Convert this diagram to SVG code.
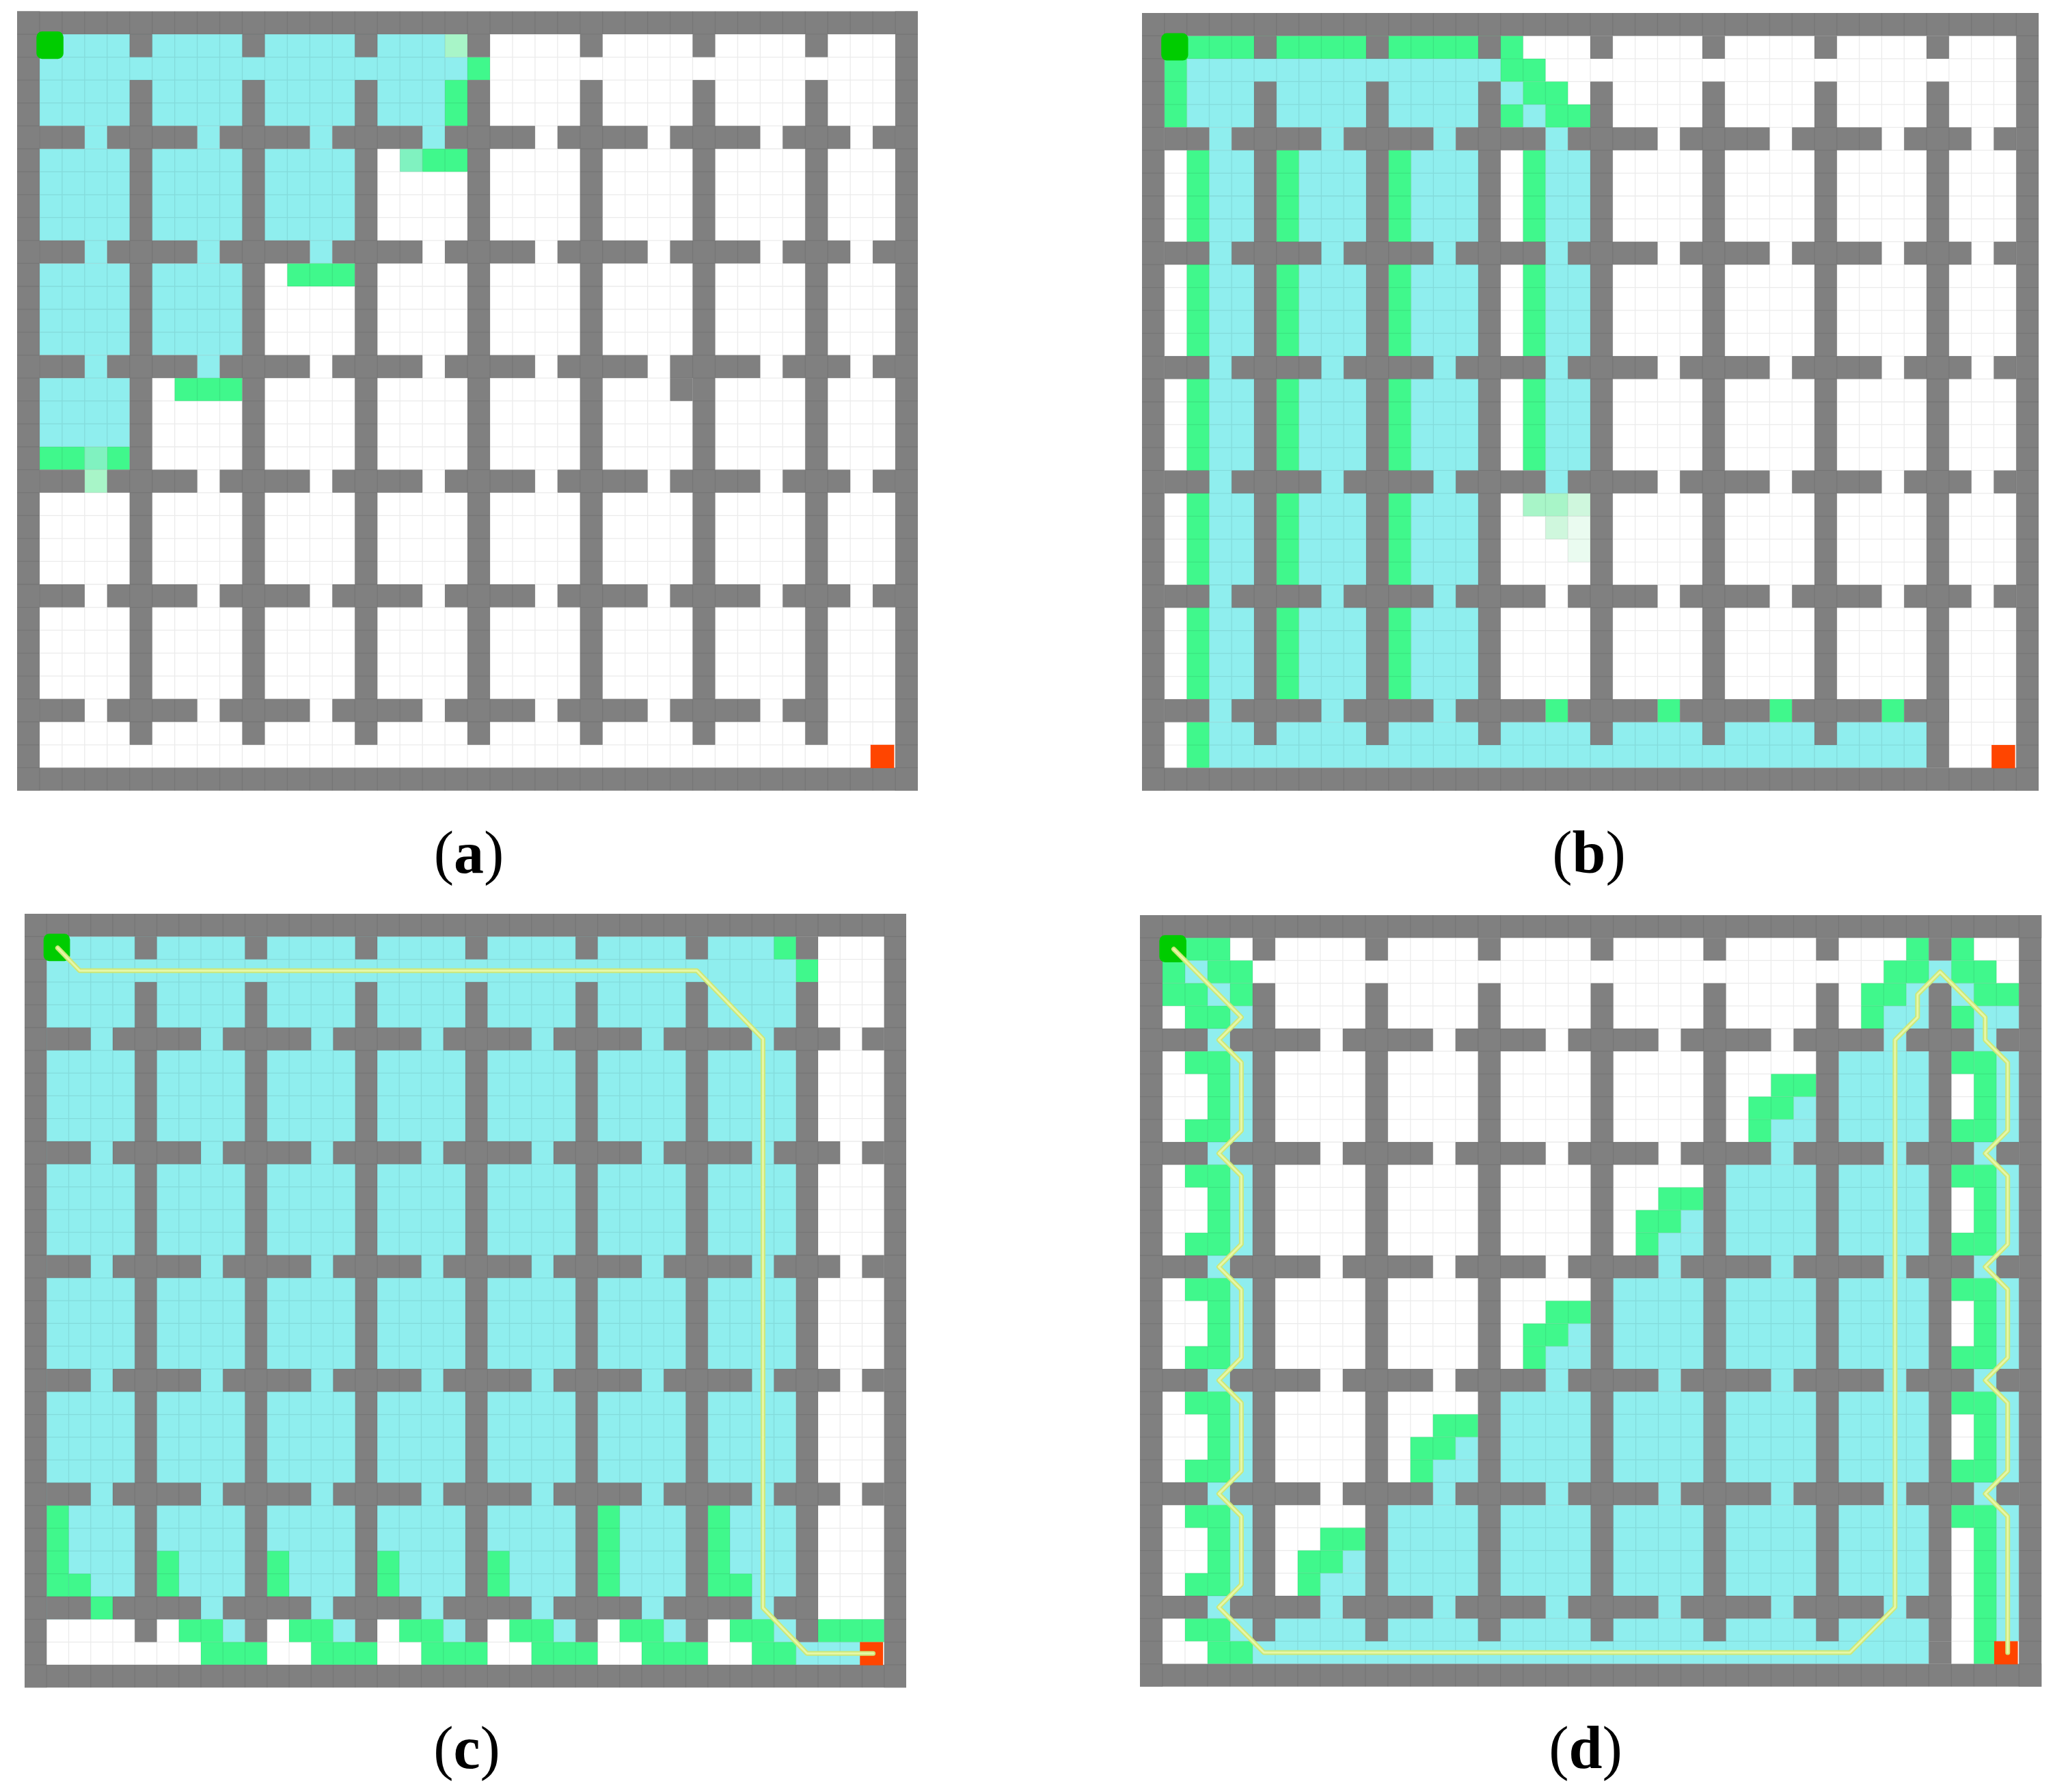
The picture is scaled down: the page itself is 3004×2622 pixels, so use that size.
<svg xmlns="http://www.w3.org/2000/svg" width="3004" height="2622" viewBox="0 0 3004 2622">
<style>
.w{fill:#808080}
.c{fill:#8FEEEE}
.g{fill:#40F88C}
.m{fill:#80F2C0}
.p1{fill:#A8F5C8}
.p2{fill:#CFF7DD}
.p3{fill:#EAFBF0}
.st{fill:#00CC00}
.gl{fill:#FF4500}
.grid{fill:none;stroke:#000;stroke-opacity:0.08;stroke-width:1.3;vector-effect:non-scaling-stroke}
.route{fill:none;stroke:#CDE878;stroke-width:7;stroke-linejoin:round;stroke-linecap:round;vector-effect:non-scaling-stroke}
.route2{fill:none;stroke:#E6F7A8;stroke-width:3;stroke-linejoin:round;stroke-linecap:round;vector-effect:non-scaling-stroke}
.lab{font-family:"Liberation Serif","Times New Roman",serif;font-size:88px;fill:#000}
</style>
<defs>
<g id="hrow">
<rect x="1" y="0" width="2" height="1"/><rect x="4" y="0" width="4" height="1"/><rect x="9" y="0" width="4" height="1"/><rect x="14" y="0" width="4" height="1"/><rect x="19" y="0" width="4" height="1"/><rect x="24" y="0" width="4" height="1"/><rect x="29" y="0" width="4" height="1"/><rect x="34" y="0" width="3" height="1"/><rect x="38" y="0" width="1" height="1"/>
</g>
<g id="walls" class="w">
<rect x="0" y="0" width="40" height="1"/><rect x="0" y="33" width="40" height="1"/><rect x="0" y="0" width="1" height="34"/><rect x="39" y="0" width="1" height="34"/>
<use href="#hrow" y="5"/><use href="#hrow" y="10"/><use href="#hrow" y="15"/><use href="#hrow" y="20"/><use href="#hrow" y="25"/>
<rect x="1" y="30" width="2" height="1"/><rect x="4" y="30" width="4" height="1"/><rect x="9" y="30" width="4" height="1"/><rect x="14" y="30" width="4" height="1"/><rect x="19" y="30" width="4" height="1"/><rect x="24" y="30" width="4" height="1"/><rect x="29" y="30" width="4" height="1"/><rect x="34" y="30" width="2" height="1"/>
<rect x="5" y="1" width="1" height="1"/><rect x="5" y="3" width="1" height="29"/>
<rect x="10" y="1" width="1" height="1"/><rect x="10" y="3" width="1" height="29"/>
<rect x="15" y="1" width="1" height="1"/><rect x="15" y="3" width="1" height="29"/>
<rect x="20" y="1" width="1" height="1"/><rect x="20" y="3" width="1" height="29"/>
<rect x="25" y="1" width="1" height="1"/><rect x="25" y="3" width="1" height="29"/>
<rect x="30" y="1" width="1" height="1"/><rect x="30" y="3" width="1" height="29"/>
<rect x="35" y="1" width="1" height="1"/><rect x="35" y="3" width="1" height="29"/>
</g>
<path id="grid" class="grid" d="M1 0V34M2 0V34M3 0V34M4 0V34M5 0V34M6 0V34M7 0V34M8 0V34M9 0V34M10 0V34M11 0V34M12 0V34M13 0V34M14 0V34M15 0V34M16 0V34M17 0V34M18 0V34M19 0V34M20 0V34M21 0V34M22 0V34M23 0V34M24 0V34M25 0V34M26 0V34M27 0V34M28 0V34M29 0V34M30 0V34M31 0V34M32 0V34M33 0V34M34 0V34M35 0V34M36 0V34M37 0V34M38 0V34M39 0V34M0 1H40M0 2H40M0 3H40M0 4H40M0 5H40M0 6H40M0 7H40M0 8H40M0 9H40M0 10H40M0 11H40M0 12H40M0 13H40M0 14H40M0 15H40M0 16H40M0 17H40M0 18H40M0 19H40M0 20H40M0 21H40M0 22H40M0 23H40M0 24H40M0 25H40M0 26H40M0 27H40M0 28H40M0 29H40M0 30H40M0 31H40M0 32H40M0 33H40"/>
<g id="ends">
<rect class="gl" x="37.9" y="32" width="1.05" height="1.02"/>
<rect class="st" x="0.86" y="0.88" width="1.2" height="1.2" rx="0.25" ry="0.25"/>
</g>
</defs>

<!-- Panel (a) -->
<g id="panel-a" transform="translate(25 16.5) scale(32.95 33.54)">
<rect width="40" height="34" fill="#fff"/>
<g class="c">
<rect x="1" y="1" width="18" height="4"/>
<rect x="19" y="2" width="1" height="1"/>
<rect x="3" y="5" width="1" height="1"/><rect x="8" y="5" width="1" height="1"/><rect x="13" y="5" width="1" height="1"/><rect x="18" y="5" width="1" height="1"/>
<rect x="1" y="6" width="14" height="4"/>
<rect x="3" y="10" width="1" height="1"/><rect x="8" y="10" width="1" height="1"/><rect x="13" y="10" width="1" height="1"/>
<rect x="1" y="11" width="9" height="4"/>
<rect x="3" y="15" width="1" height="1"/><rect x="8" y="15" width="1" height="1"/>
<rect x="1" y="16" width="4" height="3"/>
</g>
<g class="g">
<rect x="19" y="3" width="1" height="2"/>
<rect x="20" y="2" width="1" height="1"/>
<rect x="18" y="6" width="2" height="1"/>
<rect x="12" y="11" width="3" height="1"/>
<rect x="7" y="16" width="3" height="1"/>
<rect x="1" y="19" width="2" height="1"/>
<rect x="4" y="19" width="1" height="1"/>
</g>
<rect class="m" x="17" y="6" width="1" height="1"/>
<rect class="p1" x="19" y="1" width="1" height="1"/>
<rect class="m" x="3" y="19" width="1" height="1"/>
<rect class="p1" x="3" y="20" width="1" height="1"/>
<use href="#walls"/>
<rect class="w" x="29" y="16" width="1" height="1"/>
<use href="#grid"/>
<use href="#ends"/>
</g>

<!-- Panel (b) -->
<g id="panel-b" transform="translate(1671 19) scale(32.8 33.47)">
<rect width="40" height="34" fill="#fff"/>
<g class="c">
<rect x="2" y="2" width="14" height="3"/>
<rect x="16" y="3" width="1" height="1"/>
<rect x="17" y="4" width="1" height="1"/>
<rect x="3" y="5" width="1" height="1"/><rect x="8" y="5" width="1" height="1"/><rect x="13" y="5" width="1" height="1"/><rect x="18" y="5" width="1" height="1"/>
<rect x="3" y="6" width="2" height="25"/>
<rect x="7" y="6" width="3" height="25"/>
<rect x="12" y="6" width="3" height="25"/>
<rect x="18" y="6" width="2" height="15"/>
<rect x="3" y="31" width="32" height="2"/>
</g>
<g class="g">
<rect x="2" y="1" width="15" height="1"/>
<rect x="1" y="2" width="1" height="3"/>
<rect x="16" y="2" width="2" height="1"/>
<rect x="17" y="3" width="2" height="1"/>
<rect x="16" y="4" width="1" height="1"/>
<rect x="18" y="4" width="2" height="1"/>
<rect x="2" y="6" width="1" height="24"/>
<rect x="6" y="6" width="1" height="24"/>
<rect x="11" y="6" width="1" height="24"/>
<rect x="17" y="6" width="1" height="14"/>
<rect x="18" y="30" width="1" height="1"/><rect x="23" y="30" width="1" height="1"/><rect x="28" y="30" width="1" height="1"/><rect x="33" y="30" width="1" height="1"/>
<rect x="2" y="31" width="1" height="2"/>
</g>
<rect class="p1" x="17" y="21" width="2" height="1"/>
<rect class="p2" x="19" y="21" width="1" height="1"/>
<rect class="p2" x="18" y="22" width="1" height="1"/>
<rect class="p3" x="19" y="22" width="1" height="2"/>
<use href="#walls"/>
<rect class="w" x="35" y="32" width="1" height="1"/>
<use href="#grid"/>
<use href="#ends"/>
</g>

<!-- Panel (c) -->
<g id="panel-c" transform="translate(36 1337) scale(32.25 33.3)">
<rect width="40" height="34" fill="#fff"/>
<g class="c">
<rect x="1" y="1" width="34" height="30"/>
<rect x="9" y="31" width="1" height="1"/><rect x="14" y="31" width="1" height="1"/><rect x="19" y="31" width="1" height="1"/><rect x="24" y="31" width="1" height="1"/><rect x="29" y="31" width="1" height="1"/><rect x="34" y="31" width="1" height="1"/>
<rect x="35" y="32" width="3" height="1"/>
</g>
<g class="g">
<rect x="34" y="1" width="1" height="1"/>
<rect x="35" y="2" width="1" height="1"/>
<rect x="1" y="26" width="1" height="4"/><rect x="2" y="29" width="1" height="1"/>
<rect x="6" y="28" width="1" height="2"/>
<rect x="11" y="28" width="1" height="2"/>
<rect x="16" y="28" width="1" height="2"/>
<rect x="21" y="28" width="1" height="2"/>
<rect x="26" y="26" width="1" height="4"/>
<rect x="31" y="26" width="1" height="4"/><rect x="32" y="29" width="1" height="1"/>
<rect x="3" y="30" width="1" height="1"/>
<rect x="7" y="31" width="2" height="1"/><rect x="12" y="31" width="2" height="1"/><rect x="17" y="31" width="2" height="1"/><rect x="22" y="31" width="2" height="1"/><rect x="27" y="31" width="2" height="1"/><rect x="32" y="31" width="2" height="1"/>
<rect x="36" y="31" width="3" height="1"/>
<rect x="8" y="32" width="3" height="1"/><rect x="13" y="32" width="3" height="1"/><rect x="18" y="32" width="3" height="1"/><rect x="23" y="32" width="3" height="1"/><rect x="28" y="32" width="3" height="1"/><rect x="33" y="32" width="2" height="1"/>
</g>
<use href="#walls"/>
<use href="#grid"/>
<use href="#ends"/>
<polyline class="route" points="1.5,1.5 2.5,2.5 30.5,2.5 33.5,5.5 33.5,30.5 35.5,32.5 38.5,32.5"/>
<polyline class="route2" points="1.5,1.5 2.5,2.5 30.5,2.5 33.5,5.5 33.5,30.5 35.5,32.5 38.5,32.5"/>
</g>

<!-- Panel (d) -->
<g id="panel-d" transform="translate(1668 1339) scale(32.98 33.2)">
<rect width="40" height="34" fill="#fff"/>
<g class="c">
<rect x="2" y="2" width="1" height="1"/><rect x="3" y="3" width="1" height="1"/><rect x="4" y="4" width="1" height="1"/>
<rect x="3" y="5" width="1" height="1"/><rect x="3" y="10" width="1" height="1"/><rect x="3" y="15" width="1" height="1"/><rect x="3" y="20" width="1" height="1"/><rect x="3" y="25" width="1" height="1"/><rect x="3" y="30" width="1" height="1"/>
<rect x="4" y="6" width="1" height="24"/>
<rect x="4" y="31" width="1" height="1"/>
<rect x="5" y="31" width="30" height="2"/>
<rect x="31" y="6" width="4" height="4"/>
<rect x="26" y="11" width="9" height="4"/>
<rect x="21" y="16" width="14" height="4"/>
<rect x="16" y="21" width="19" height="4"/>
<rect x="11" y="26" width="24" height="4"/>
<rect x="33" y="5" width="1" height="1"/>
<rect x="28" y="10" width="1" height="1"/><rect x="33" y="10" width="1" height="1"/>
<rect x="23" y="15" width="1" height="1"/><rect x="28" y="15" width="1" height="1"/><rect x="33" y="15" width="1" height="1"/>
<rect x="18" y="20" width="1" height="1"/><rect x="23" y="20" width="1" height="1"/><rect x="28" y="20" width="1" height="1"/><rect x="33" y="20" width="1" height="1"/>
<rect x="13" y="25" width="1" height="1"/><rect x="18" y="25" width="1" height="1"/><rect x="23" y="25" width="1" height="1"/><rect x="28" y="25" width="1" height="1"/><rect x="33" y="25" width="1" height="1"/>
<rect x="8" y="30" width="1" height="1"/><rect x="13" y="30" width="1" height="1"/><rect x="18" y="30" width="1" height="1"/><rect x="23" y="30" width="1" height="1"/><rect x="28" y="30" width="1" height="1"/><rect x="33" y="30" width="1" height="1"/>
<rect x="29" y="8" width="1" height="1"/><rect x="28" y="9" width="2" height="1"/>
<rect x="24" y="13" width="1" height="1"/><rect x="23" y="14" width="2" height="1"/>
<rect x="19" y="18" width="1" height="1"/><rect x="18" y="19" width="2" height="1"/>
<rect x="14" y="23" width="1" height="1"/><rect x="13" y="24" width="2" height="1"/>
<rect x="9" y="28" width="1" height="1"/><rect x="8" y="29" width="2" height="1"/>
<rect x="34" y="3" width="1" height="1"/><rect x="33" y="4" width="2" height="1"/><rect x="35" y="2" width="1" height="1"/>
<rect x="36" y="3" width="1" height="1"/><rect x="37" y="4" width="2" height="1"/>
<rect x="37" y="5" width="1" height="1"/>
<rect x="38" y="6" width="1" height="26"/>
</g>
<g class="g">
<rect x="2" y="1" width="2" height="1"/><rect x="1" y="2" width="1" height="1"/><rect x="3" y="2" width="2" height="1"/>
<rect x="1" y="3" width="2" height="1"/><rect x="4" y="3" width="1" height="1"/><rect x="2" y="4" width="2" height="1"/>
<rect x="3" y="6" width="1" height="4"/><rect x="3" y="11" width="1" height="4"/><rect x="3" y="16" width="1" height="4"/><rect x="3" y="21" width="1" height="4"/><rect x="3" y="26" width="1" height="4"/>
<rect x="2" y="6" width="1" height="1"/><rect x="2" y="9" width="1" height="1"/><rect x="2" y="11" width="1" height="1"/><rect x="2" y="14" width="1" height="1"/><rect x="2" y="16" width="1" height="1"/><rect x="2" y="19" width="1" height="1"/><rect x="2" y="21" width="1" height="1"/><rect x="2" y="24" width="1" height="1"/><rect x="2" y="26" width="1" height="1"/><rect x="2" y="29" width="1" height="1"/>
<rect x="2" y="31" width="2" height="1"/><rect x="3" y="32" width="2" height="1"/>
<rect x="28" y="7" width="2" height="1"/><rect x="27" y="8" width="2" height="1"/><rect x="27" y="9" width="1" height="1"/>
<rect x="23" y="12" width="2" height="1"/><rect x="22" y="13" width="2" height="1"/><rect x="22" y="14" width="1" height="1"/>
<rect x="18" y="17" width="2" height="1"/><rect x="17" y="18" width="2" height="1"/><rect x="17" y="19" width="1" height="1"/>
<rect x="13" y="22" width="2" height="1"/><rect x="12" y="23" width="2" height="1"/><rect x="12" y="24" width="1" height="1"/>
<rect x="8" y="27" width="2" height="1"/><rect x="7" y="28" width="2" height="1"/><rect x="7" y="29" width="1" height="1"/>
<rect x="34" y="1" width="1" height="1"/><rect x="33" y="2" width="2" height="1"/><rect x="32" y="3" width="2" height="1"/><rect x="32" y="4" width="1" height="1"/>
<rect x="36" y="1" width="1" height="1"/><rect x="36" y="2" width="2" height="1"/><rect x="37" y="3" width="2" height="1"/><rect x="36" y="4" width="1" height="1"/>
<rect x="37" y="6" width="1" height="4"/><rect x="37" y="11" width="1" height="4"/><rect x="37" y="16" width="1" height="4"/><rect x="37" y="21" width="1" height="4"/><rect x="37" y="26" width="1" height="7"/>
<rect x="36" y="6" width="1" height="1"/><rect x="36" y="9" width="1" height="1"/><rect x="36" y="11" width="1" height="1"/><rect x="36" y="14" width="1" height="1"/><rect x="36" y="16" width="1" height="1"/><rect x="36" y="19" width="1" height="1"/><rect x="36" y="21" width="1" height="1"/><rect x="36" y="24" width="1" height="1"/><rect x="36" y="26" width="1" height="1"/>
</g>
<rect class="c" x="37" y="10" width="1" height="1"/><rect class="c" x="37" y="15" width="1" height="1"/><rect class="c" x="37" y="20" width="1" height="1"/><rect class="c" x="37" y="25" width="1" height="1"/>
<use href="#walls"/>
<rect class="w" x="35" y="32" width="1" height="1"/>
<use href="#grid"/>
<use href="#ends"/>
<polyline class="route" points="1.5,1.5 4.5,4.5 3.5,5.5 4.5,6.5 4.5,9.5 3.5,10.5 4.5,11.5 4.5,14.5 3.5,15.5 4.5,16.5 4.5,19.5 3.5,20.5 4.5,21.5 4.5,24.5 3.5,25.5 4.5,26.5 4.5,29.5 3.5,30.5 5.5,32.5 31.5,32.5 33.5,30.5 33.5,5.5 34.5,4.5 34.5,3.5 35.5,2.5 37.5,4.5 37.5,5.5 38.5,6.5 38.5,9.5 37.5,10.5 38.5,11.5 38.5,14.5 37.5,15.5 38.5,16.5 38.5,19.5 37.5,20.5 38.5,21.5 38.5,24.5 37.5,25.5 38.5,26.5 38.5,32.5"/>
<polyline class="route2" points="1.5,1.5 4.5,4.5 3.5,5.5 4.5,6.5 4.5,9.5 3.5,10.5 4.5,11.5 4.5,14.5 3.5,15.5 4.5,16.5 4.5,19.5 3.5,20.5 4.5,21.5 4.5,24.5 3.5,25.5 4.5,26.5 4.5,29.5 3.5,30.5 5.5,32.5 31.5,32.5 33.5,30.5 33.5,5.5 34.5,4.5 34.5,3.5 35.5,2.5 37.5,4.5 37.5,5.5 38.5,6.5 38.5,9.5 37.5,10.5 38.5,11.5 38.5,14.5 37.5,15.5 38.5,16.5 38.5,19.5 37.5,20.5 38.5,21.5 38.5,24.5 37.5,25.5 38.5,26.5 38.5,32.5"/>
</g>

<g id="labels" class="lab" text-anchor="middle">
<text x="686" y="1277">(<tspan font-weight="bold">a</tspan>)</text>
<text x="2325" y="1277">(<tspan font-weight="bold">b</tspan>)</text>
<text x="683" y="2587">(<tspan font-weight="bold">c</tspan>)</text>
<text x="2320" y="2587">(<tspan font-weight="bold">d</tspan>)</text>
</g>
</svg>
